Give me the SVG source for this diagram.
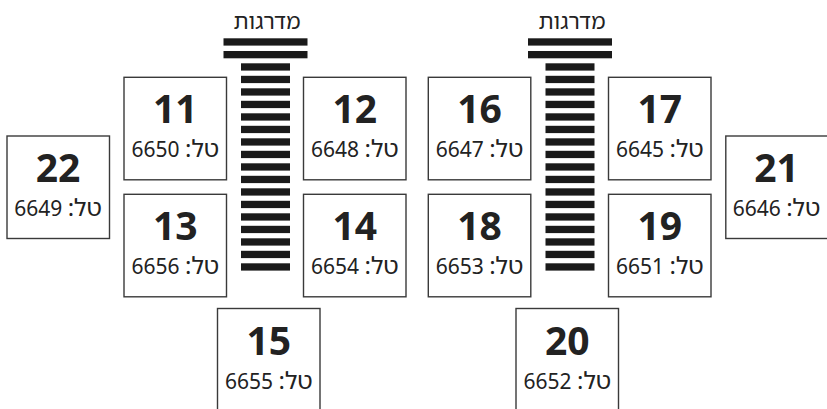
<svg xmlns="http://www.w3.org/2000/svg" width="827" height="409" viewBox="0 0 827 409">
<defs>
<style>
.box{fill:#fff;stroke:#3a3a3a;stroke-width:1.4}
.num{font-family:"Noto Sans","Open Sans","DejaVu Sans",sans-serif;font-weight:700;font-size:39px;fill:#222;text-anchor:middle}
.tel{font-family:"Noto Sans","Noto Sans Hebrew","DejaVu Sans","Liberation Sans",sans-serif;font-size:21px;fill:#222;text-anchor:middle}
.heb{font-size:24px}
.lbl{font-family:"Noto Sans","Noto Sans Hebrew","DejaVu Sans","Liberation Sans",sans-serif;font-size:22px;fill:#222;text-anchor:middle}
.bar{fill:#1a1a1a}
</style>
<g id="stairbars">
<rect class="bar" x="-42" y="38.3" width="84" height="7.3"/>
<rect class="bar" x="-42" y="51" width="84" height="7.3"/>
<rect class="bar" x="-24.5" y="63.3" width="49" height="7.3"/>
<rect class="bar" x="-24.5" y="75.8" width="49" height="7.3"/>
<rect class="bar" x="-24.5" y="88.3" width="49" height="7.3"/>
<rect class="bar" x="-24.5" y="100.8" width="49" height="7.3"/>
<rect class="bar" x="-24.5" y="113.3" width="49" height="7.3"/>
<rect class="bar" x="-24.5" y="125.8" width="49" height="7.3"/>
<rect class="bar" x="-24.5" y="138.3" width="49" height="7.3"/>
<rect class="bar" x="-24.5" y="150.8" width="49" height="7.3"/>
<rect class="bar" x="-24.5" y="163.3" width="49" height="7.3"/>
<rect class="bar" x="-24.5" y="175.8" width="49" height="7.3"/>
<rect class="bar" x="-24.5" y="188.3" width="49" height="7.3"/>
<rect class="bar" x="-24.5" y="200.8" width="49" height="7.3"/>
<rect class="bar" x="-24.5" y="213.3" width="49" height="7.3"/>
<rect class="bar" x="-24.5" y="225.8" width="49" height="7.3"/>
<rect class="bar" x="-24.5" y="238.3" width="49" height="7.3"/>
<rect class="bar" x="-24.5" y="250.8" width="49" height="7.3"/>
<rect class="bar" x="-24.5" y="263.3" width="49" height="7.3"/>
</g>
</defs>
<rect width="827" height="409" fill="#fff"/>

<g id="stairs-left">
<text class="lbl" x="267" y="29">מדרגות</text>
<use href="#stairbars" x="265.5" y="0"/>
</g>
<g id="stairs-right">
<text class="lbl" x="572" y="29">מדרגות</text>
<use href="#stairbars" x="570" y="0"/>
</g>

<g id="unit-22">
<rect class="box" x="7" y="136" width="102.5" height="102.5"/>
<text class="num" x="58" y="181.5">22</text>
<text class="tel" x="58" y="215.5" direction="rtl"><tspan class="heb">טל:</tspan> 6649</text>
</g>
<g id="unit-11">
<rect class="box" x="124" y="77.3" width="102.5" height="102.5"/>
<text class="num" x="175.3" y="123">11</text>
<text class="tel" x="175.3" y="157" direction="rtl"><tspan class="heb">טל:</tspan> 6650</text>
</g>
<g id="unit-13">
<rect class="box" x="124" y="194.3" width="102.5" height="102.5"/>
<text class="num" x="175.3" y="240">13</text>
<text class="tel" x="175.3" y="274" direction="rtl"><tspan class="heb">טל:</tspan> 6656</text>
</g>
<g id="unit-12">
<rect class="box" x="303.5" y="77.3" width="102.5" height="102.5"/>
<text class="num" x="354.8" y="123">12</text>
<text class="tel" x="354.8" y="157" direction="rtl"><tspan class="heb">טל:</tspan> 6648</text>
</g>
<g id="unit-14">
<rect class="box" x="303.5" y="194.3" width="102.5" height="102.5"/>
<text class="num" x="354.8" y="240">14</text>
<text class="tel" x="354.8" y="274" direction="rtl"><tspan class="heb">טל:</tspan> 6654</text>
</g>
<g id="unit-15">
<rect class="box" x="217.5" y="308.5" width="102.5" height="110"/>
<text class="num" x="268.8" y="354.5">15</text>
<text class="tel" x="268.8" y="388.5" direction="rtl"><tspan class="heb">טל:</tspan> 6655</text>
</g>
<g id="unit-16">
<rect class="box" x="428.3" y="77.3" width="102.5" height="102.5"/>
<text class="num" x="479.5" y="123">16</text>
<text class="tel" x="479.5" y="157" direction="rtl"><tspan class="heb">טל:</tspan> 6647</text>
</g>
<g id="unit-18">
<rect class="box" x="428.3" y="194.3" width="102.5" height="102.5"/>
<text class="num" x="479.5" y="240">18</text>
<text class="tel" x="479.5" y="274" direction="rtl"><tspan class="heb">טל:</tspan> 6653</text>
</g>
<g id="unit-17">
<rect class="box" x="608.5" y="77.3" width="102.5" height="102.5"/>
<text class="num" x="659.8" y="123">17</text>
<text class="tel" x="659.8" y="157" direction="rtl"><tspan class="heb">טל:</tspan> 6645</text>
</g>
<g id="unit-19">
<rect class="box" x="608.5" y="194.3" width="102.5" height="102.5"/>
<text class="num" x="659.8" y="240">19</text>
<text class="tel" x="659.8" y="274" direction="rtl"><tspan class="heb">טל:</tspan> 6651</text>
</g>
<g id="unit-20">
<rect class="box" x="516" y="308.5" width="102.5" height="110"/>
<text class="num" x="567.3" y="354.5">20</text>
<text class="tel" x="567.3" y="388.5" direction="rtl"><tspan class="heb">טל:</tspan> 6652</text>
</g>
<g id="unit-21">
<rect class="box" x="725.8" y="136" width="102.5" height="102.5"/>
<text class="num" x="776.5" y="181.5">21</text>
<text class="tel" x="776.5" y="215.5" direction="rtl"><tspan class="heb">טל:</tspan> 6646</text>
</g>
</svg>
